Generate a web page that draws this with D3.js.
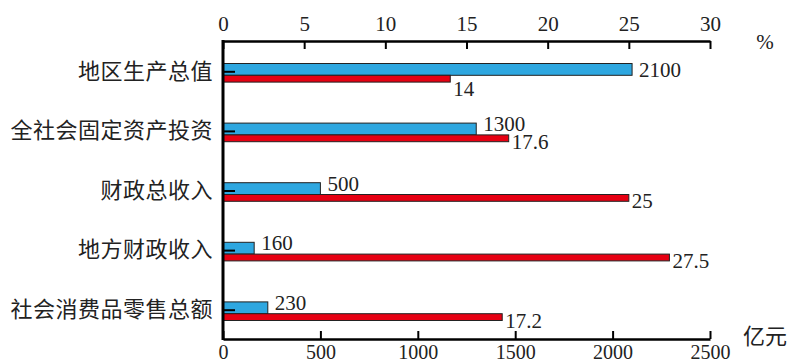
<!DOCTYPE html>
<html>
<head>
<meta charset="utf-8">
<script src="https://cdn.jsdelivr.net/npm/d3@7"></script>
<style>
  html, body { margin: 0; padding: 0; background: #fff; }
  svg { display: block; }
  .num { font-family: "Liberation Serif", "Times New Roman", Tinos, "Noto Serif", "DejaVu Serif", serif; font-size: 21px; fill: #222; }
  .cjk { font-family: "Noto Sans CJK SC", sans-serif; font-size: 22px; fill: #222; }
</style>
</head>
<body>
<svg id="chart" width="790" height="364"></svg>
<script>
// Indicators (top to bottom)
const categories = ["地区生产总值", "全社会固定资产投资", "财政总收入", "地方财政收入", "社会消费品零售总额"];
// Absolute amount, 亿元 (bottom axis)
const amounts = [2100, 1300, 500, 160, 230];
// Growth rate, % (top axis)
const rates = [14, 17.6, 25, 27.5, 17.2];
// Axis ticks
const amountTicks = [0, 500, 1000, 1500, 2000, 2500];
const rateTicks = [0, 5, 10, 15, 20, 25, 30];
const amountUnit = "亿元";
const rateUnit = "%";

const W = 790, H = 364;
const margin = { top: 41, right: 80, bottom: 25, left: 223 };
const svg = d3.select("#chart");
const numFont = '"Liberation Serif", "Times New Roman", Tinos, "Noto Serif", "DejaVu Serif", serif';

const xAmt = d3.scaleLinear().domain([0, 2500]).range([margin.left, W - margin.right]);
const xRate = d3.scaleLinear().domain([0, 30]).range([margin.left, W - margin.right]);
const y = d3.scaleBand().domain(categories).range([margin.top, H - margin.bottom]);
const mid = d => y(d) + y.bandwidth() / 2;

const rows = categories.map((c, i) => ({ cat: c, amt: amounts[i], rate: rates[i] }));

// Blue bars: amounts
svg.append("g").selectAll("rect").data(rows).join("rect")
  .attr("x", xAmt(0))
  .attr("y", d => mid(d.cat) - 7.3)
  .attr("width", d => xAmt(d.amt) - xAmt(0))
  .attr("height", 11.8)
  .attr("fill", "#2ea7e0")
  .attr("stroke", "#222")
  .attr("stroke-width", 1);

// Red bars: growth rates
svg.append("g").selectAll("rect").data(rows).join("rect")
  .attr("x", xRate(0))
  .attr("y", d => mid(d.cat) + 4.5)
  .attr("width", d => xRate(d.rate) - xRate(0))
  .attr("height", 6.8)
  .attr("fill", "#e60012")
  .attr("stroke", "#222")
  .attr("stroke-width", 1);

// Value labels; when the blue bar is the longer one its label sits on the bar's centre
// and the rate label drops below the blue bar.
const blueLonger = d => xAmt(d.amt) > xRate(d.rate);
svg.append("g").selectAll("text").data(rows).join("text")
  .attr("class", "num")
  .style("font-family", numFont)
  .attr("x", d => xAmt(d.amt) + 7)
  .attr("y", d => mid(d.cat) + (blueLonger(d) ? -1 : -6.5))
  .attr("dy", "0.35em")
  .text(d => d3.format("d")(d.amt));

svg.append("g").selectAll("text").data(rows).join("text")
  .attr("class", "num")
  .style("font-family", numFont)
  .attr("x", d => xRate(d.rate) + 3)
  .attr("y", d => mid(d.cat) + (blueLonger(d) ? 18 : 11))
  .attr("dy", "0.35em")
  .text(d => String(d.rate));

// Top axis: growth rate
const topAxis = svg.append("g")
  .attr("transform", `translate(0,${margin.top})`)
  .call(d3.axisTop(xRate).tickValues(rateTicks).tickFormat(d3.format("d"))
    .tickSizeInner(-8).tickSizeOuter(0).tickPadding(10));

// Bottom axis: amount
const botAxis = svg.append("g")
  .attr("transform", `translate(0,${H - margin.bottom})`)
  .call(d3.axisBottom(xAmt).tickValues(amountTicks).tickFormat(d3.format("d"))
    .tickSizeInner(-8).tickSizeOuter(0).tickPadding(6));

[topAxis, botAxis].forEach(g => {
  g.attr("font-family", null).attr("font-size", null);
  g.select(".domain").attr("stroke", "#000").attr("stroke-width", 2.5);
  g.selectAll(".tick line").attr("stroke", "#000").attr("stroke-width", 2);
  g.selectAll(".tick text").attr("class", "num").style("font-family", numFont).attr("fill", null);
});
botAxis.selectAll(".tick text").style("font-size", "20px");

// Category axis on the left
svg.append("line")
  .attr("x1", margin.left).attr("x2", margin.left)
  .attr("y1", margin.top - 1).attr("y2", H - margin.bottom + 1)
  .attr("stroke", "#000").attr("stroke-width", 3);

svg.append("g").selectAll("line").data(categories).join("line")
  .attr("x1", margin.left).attr("x2", margin.left + 12)
  .attr("y1", d => mid(d) + 1).attr("y2", d => mid(d) + 1)
  .attr("stroke", "#000").attr("stroke-width", 2);

svg.append("g").selectAll("text").data(categories).join("text")
  .attr("class", "cjk")
  .attr("x", margin.left - 10)
  .attr("y", d => mid(d))
  .attr("dy", "0.35em")
  .attr("text-anchor", "end")
  .attr("letter-spacing", "0.5px")
  .text(d => d);

// Units
svg.append("text").attr("class", "num").style("font-family", numFont)
  .attr("x", 765).attr("y", 42).attr("dy", "0.35em").attr("text-anchor", "middle")
  .text(rateUnit);
svg.append("text").attr("class", "cjk")
  .attr("x", 743).attr("y", 336).attr("dy", "0.35em")
  .text(amountUnit);
</script>
</body>
</html>
